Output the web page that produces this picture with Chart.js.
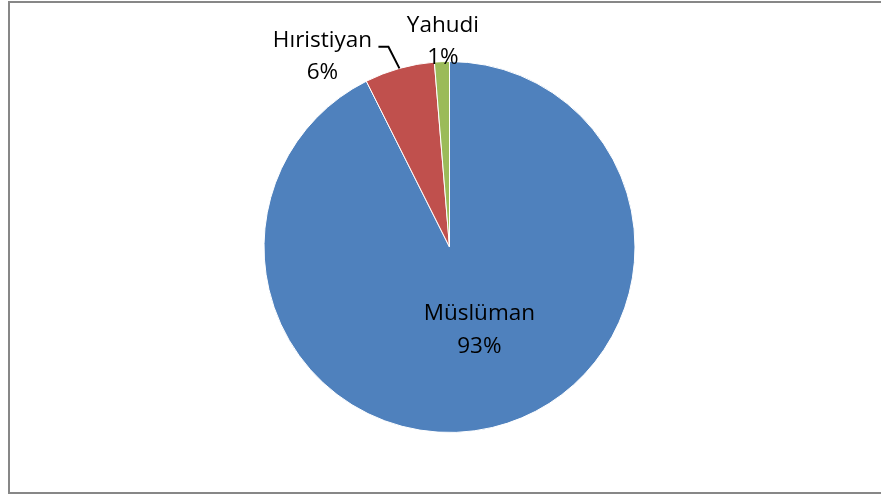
<!DOCTYPE html>
<html>
<head>
<meta charset="utf-8">
<script src="https://cdn.jsdelivr.net/npm/chart.js@4/dist/chart.umd.min.js"></script>
<style>
  html, body { margin: 0; padding: 0; background: #fff; overflow: hidden; }
  #wrap { position: relative; width: 881px; height: 495px; }
  #frame {
    position: absolute; left: 8px; top: 1px; width: 900px; height: 489px;
    border: 2px solid #878787; border-right: none; box-sizing: content-box;
  }
  canvas { position: absolute; left: 0; top: 0; }
</style>
</head>
<body>
<div id="wrap">
  <div id="frame"></div>
  <canvas id="dinChart" width="881" height="495"></canvas>
</div>
<script>
// veriler
const categories = ["Müslüman", "Hıristiyan", "Yahudi"];
const shares = [92.6, 6.1, 1.3];
const sliceColors = ["#4F81BD", "#C0504D", "#9BBB59"];

const total = shares.reduce((a, b) => a + b, 0);
const pctLabels = shares.map(v => Math.round(v / total * 100) + "%");

/* label plugin: inside for big slice, outside (with leader) for the small ones */
const pieLabels = {
  id: "pieLabels",
  afterDatasetsDraw(chart) {
    const ctx = chart.ctx;
    const arcs = chart.getDatasetMeta(0).data;
    ctx.save();
    ctx.font = "22.5px 'Open Sans'";
    ctx.fillStyle = "#000";
    ctx.textAlign = "center";
    ctx.textBaseline = "alphabetic";

    arcs.forEach((arc, i) => {
      const p = arc.getProps(["x", "y", "startAngle", "endAngle", "outerRadius"], true);
      const mid = (p.startAngle + p.endAngle) / 2;

      if (i === 0) {
        // inside label
        const ang = mid - 6.7 * Math.PI / 180;
        const r = p.outerRadius * 0.47;
        const cx = p.x + Math.cos(ang) * r;
        const cy = p.y + Math.sin(ang) * r;
        ctx.fillText(categories[i], cx, cy - 9);
        ctx.fillText(pctLabels[i], cx, cy + 24);
        return;
      }

      // anchor on the outer edge at mid angle
      const ax = p.x + Math.cos(mid) * p.outerRadius;
      const ay = p.y + Math.sin(mid) * p.outerRadius;

      if (i === 1) {
        const tx = ax - 77, ty = ay - 21.7;
        ctx.fillText(categories[i], tx, ty);
        ctx.fillText(pctLabels[i], tx, ty + 32);
        ctx.beginPath();
        ctx.strokeStyle = "#000";
        ctx.lineWidth = 2;
        ctx.moveTo(ax - 21, ty);
        ctx.lineTo(ax - 11, ty);
        ctx.lineTo(ax, ay);
        ctx.stroke();
      } else {
        const tx = ax + 1, ty = ay - 29.4;
        ctx.fillText(categories[i], tx, ty);
        ctx.fillText(pctLabels[i], tx, ty + 32);
      }
    });
    ctx.restore();
  }
};

const ctx = document.getElementById("dinChart").getContext("2d");

new Chart(ctx, {
  type: "pie",
  data: {
    labels: categories,
    datasets: [{
      data: shares,
      backgroundColor: sliceColors,
      borderColor: "#fff",
      borderWidth: 1
    }]
  },
  options: {
    responsive: false,
    animation: false,
    layout: { padding: { left: 100, right: 82, top: 61, bottom: 62 } },
    plugins: {
      legend: { display: false },
      tooltip: { enabled: false }
    }
  },
  plugins: [pieLabels]
});
</script>
</body>
</html>
